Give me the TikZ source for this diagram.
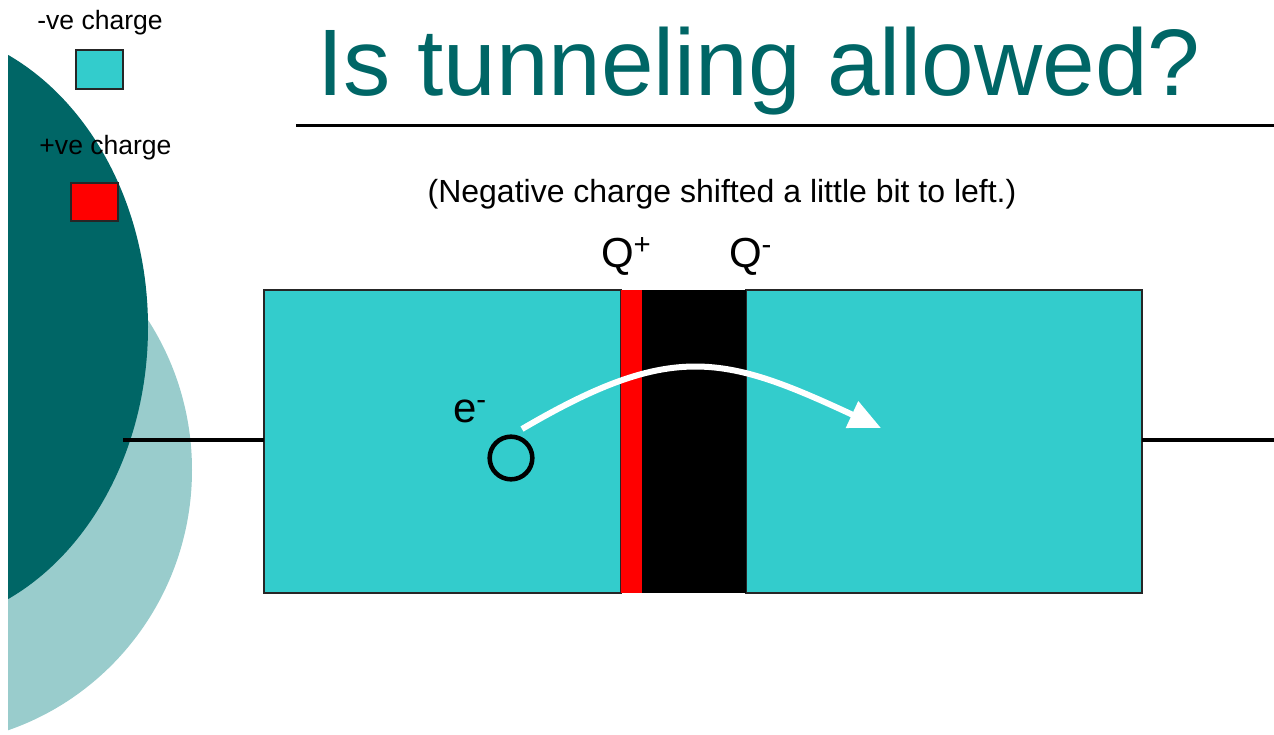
\documentclass[tikz,border=0pt]{standalone}
\usepackage{fontspec}
\setmainfont{Liberation Sans}
\usetikzlibrary{arrows.meta}
\definecolor{cyanfill}{HTML}{33CCCC}
\definecolor{darkteal}{HTML}{006666}
\definecolor{lightteal}{HTML}{99CCCC}
\tikzset{
  slab/.style={inner sep=0pt, outer sep=0pt, minimum height=227.25pt},
  wire/.style={line width=3pt},
  legendbox/.style={draw=black!85, line width=1.3pt, inner sep=0pt, outer sep=0pt},
  lbl/.style={inner sep=0pt, outer sep=0pt, anchor=base, font=\fontsize{19.9}{22}\selectfont},
  big/.style={inner sep=0pt, outer sep=0pt, anchor=base west, font=\fontsize{31.5}{36}\selectfont}
}
\begin{document}
\begin{tikzpicture}[x=0.75pt, y=-0.75pt]
\useasboundingbox (0,0) rectangle (1274,735);
% background ellipses
\begin{scope}
  \clip (8,0) rectangle (400,735);
  \fill[lightteal] (-80,470) ellipse [x radius=272, y radius=275];
  \fill[darkteal] (-94,327) ellipse [x radius=242, y radius=300];
\end{scope}
% legend
\node[lbl] (negtxt) at (100,30) {-ve charge};
\node[legendbox, fill=cyanfill, minimum width=35.25pt, minimum height=29.25pt] (negbox) at (99.5,69.5) {};
\node[lbl] (postxt) at (105.5,154) {+ve charge};
\node[legendbox, fill=red, minimum width=35.25pt, minimum height=28.5pt] (posbox) at (94.5,202) {};
% title
\node[inner sep=0pt, anchor=base, text=darkteal, font=\fontsize{70.9}{80}\selectfont] (title) at (759,95) {Is tunneling allowed?};
\coordinate (tl) at (296,125.3);
\coordinate (tr) at (1274,125.3);
\draw[line width=2.25pt] (tl) -- (tr);
\node[inner sep=0pt, anchor=base, font=\fontsize{24}{28}\selectfont] (sub) at (722,202) {(Negative charge shifted a little bit to left.)};
% slabs
\node[slab, draw=black!85, line width=1.2pt, fill=cyanfill, minimum width=267.75pt] (leftbox) at (442.5,441.5) {};
\node[slab, draw=black!85, line width=1.2pt, fill=cyanfill, minimum width=297pt] (rightbox) at (944,441.5) {};
\node[slab, fill=red, minimum width=15.75pt] (qplus) at (631.5,441.5) {};
\node[slab, fill=black, minimum width=78pt] (barrier) at (694,441.5) {};
% wires
\coordinate (wl) at (123,439.5);
\coordinate (wr) at (1274,440);
\draw[wire] (wl) -- (wl -| leftbox.west);
\draw[wire] (wr -| rightbox.east) -- (wr);
% labels
\node[big] (Qp) at (601,267) {Q\textsuperscript{+}};
\node[big] (Qm) at (729,267) {Q\textsuperscript{-}};
\node[big] (elabel) at (453,422) {e\textsuperscript{-}};
% electron
\node[draw, circle, line width=3.4pt, minimum size=32pt, inner sep=0pt] (el) at (511,458) {};
% tunnelling arrow
\coordinate (astart) at (522,429);
\coordinate (aend) at (881,428);
\draw[white, line width=4.5pt, -{Triangle[length=24pt, width=21pt]}] (astart) .. controls (672,341) and (724,355) .. (aend);
\end{tikzpicture}
\end{document}
